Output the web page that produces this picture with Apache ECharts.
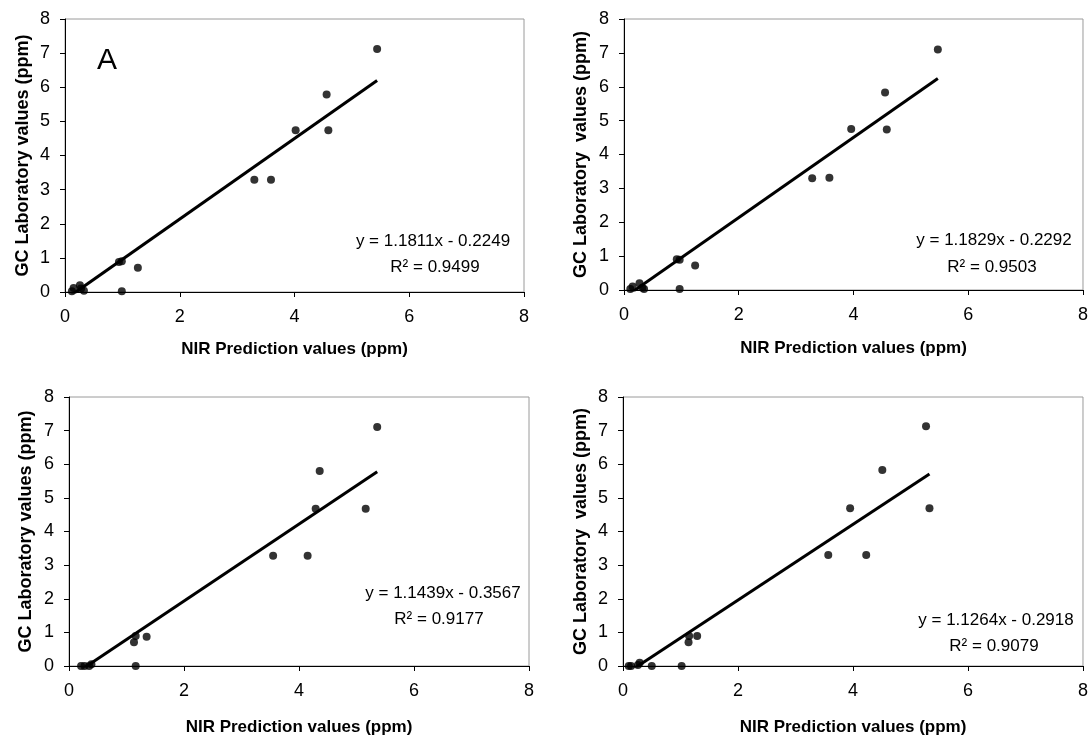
<!DOCTYPE html>
<html>
<head>
    <meta charset="utf-8">
    <title>NIR vs GC</title>
    <style>
        html, body { margin: 0; padding: 0; background: #fff; }
        #main { width: 1091px; height: 737px; }
    </style>
</head>
<body>
<div id="main"></div>
<script src="https://cdn.jsdelivr.net/npm/echarts@6/dist/echarts.min.js"></script>
<script>
    // panel A (top left)
    var nirA = [0.12, 0.15, 0.26, 0.28, 0.33, 0.94, 0.99, 0.99, 1.27, 3.30, 3.59, 4.02, 4.56, 4.59, 5.44];
    var gcA  = [0.02, 0.12, 0.20, 0.10, 0.04, 0.88, 0.90, 0.02, 0.71, 3.29, 3.29, 4.74, 5.79, 4.74, 7.12];
    // top right
    var nirB = [0.11, 0.15, 0.27, 0.32, 0.35, 0.92, 0.97, 0.97, 1.24, 3.28, 3.58, 3.96, 4.55, 4.58, 5.47];
    var gcB  = [0.03, 0.10, 0.20, 0.07, 0.03, 0.91, 0.89, 0.03, 0.72, 3.30, 3.31, 4.75, 5.83, 4.74, 7.10];
    // bottom left
    var nirC = [0.21, 0.27, 0.35, 0.39, 1.13, 1.16, 1.16, 1.35, 3.55, 4.15, 4.29, 4.36, 5.16, 5.36];
    var gcC  = [0.00, 0.00, 0.00, 0.05, 0.71, 0.89, 0.00, 0.87, 3.28, 3.28, 4.68, 5.80, 4.68, 7.11];
    // bottom right
    var nirD = [0.10, 0.14, 0.26, 0.29, 0.50, 1.02, 1.14, 1.15, 1.29, 3.57, 3.95, 4.23, 4.51, 5.27, 5.33];
    var gcD  = [0.00, 0.00, 0.03, 0.10, 0.00, 0.00, 0.71, 0.89, 0.89, 3.30, 4.69, 3.30, 5.83, 7.13, 4.69];

    // trendline coefficients shown on the chart
    var slopes = [1.1811, 1.1829, 1.1439, 1.1264];
    var intercepts = [-0.2249, -0.2292, -0.3567, -0.2918];
    var r2 = ['0.9499', '0.9503', '0.9177', '0.9079'];

    var yNames = ['GC Laboratory values (ppm)', 'GC Laboratory  values (ppm)',
                  'GC Laboratory values (ppm)', 'GC Laboratory  values (ppm)'];
    var xName = 'NIR Prediction values (ppm)';

    var panels = [[nirA, gcA], [nirB, gcB], [nirC, gcC], [nirD, gcD]];

    var font = 'Liberation Sans, Arial, sans-serif';

    var grids = [
        {left: 65, right: 567, top: 19, bottom: 445},
        {left: 624, right: 6, top: 19, bottom: 447},
        {left: 69, right: 562, top: 397, bottom: 69},
        {left: 623, right: 7, top: 397, bottom: 69}
    ];
    var xNameGaps = [49, 50, 53, 53];
    var yNameGaps = [33, 34, 34, 33];
    // equation label centres
    var eqPos = [[433, 241, 435, 267], [994, 240, 992, 267], [443, 593, 439, 619], [996, 620, 994, 646]];

    var myChart = echarts.init(document.getElementById('main'));

    var xAxes = [], yAxes = [], series = [], graphics = [];
    for (var i = 0; i < 4; i++) {
        grids[i].show = true;
        grids[i].borderColor = '#9a9a9a';
        grids[i].borderWidth = 1;
        xAxes.push({
            type: 'value', gridIndex: i, min: 0, max: 8, interval: 2,
            name: xName, nameLocation: 'middle', nameGap: xNameGaps[i],
            nameTextStyle: {fontFamily: font, fontWeight: 'bold', fontSize: 17, color: '#000'},
            axisLine: {show: true, onZero: false, lineStyle: {color: '#000', width: 1}},
            axisTick: {show: true, inside: false, length: 5, lineStyle: {color: '#000'}},
            axisLabel: {fontFamily: font, fontSize: 18, color: '#000', margin: 16},
            splitLine: {show: false}
        });
        yAxes.push({
            type: 'value', gridIndex: i, min: 0, max: 8, interval: 1,
            name: yNames[i], nameLocation: 'middle', nameGap: yNameGaps[i],
            nameTextStyle: {fontFamily: font, fontWeight: 'bold', fontSize: 18, color: '#000'},
            axisLine: {show: true, onZero: false, lineStyle: {color: '#000', width: 1}},
            axisTick: {show: true, inside: false, length: 5, lineStyle: {color: '#000'}},
            axisLabel: {fontFamily: font, fontSize: 18, color: '#000', margin: 15},
            splitLine: {show: false}
        });

        var xs = panels[i][0], ys = panels[i][1];
        var pts = [];
        for (var j = 0; j < xs.length; j++) pts.push([xs[j], ys[j]]);
        series.push({
            type: 'scatter', xAxisIndex: i, yAxisIndex: i, data: pts,
            symbolSize: 8, itemStyle: {color: '#000'}, silent: true
        });

        // least-squares line drawn over the data range
        var x0 = Math.min.apply(null, xs), x1 = Math.max.apply(null, xs);
        series.push({
            type: 'line', xAxisIndex: i, yAxisIndex: i, showSymbol: false, clip: true,
            data: [[x0, slopes[i] * x0 + intercepts[i]], [x1, slopes[i] * x1 + intercepts[i]]],
            lineStyle: {color: '#000', width: 3}, silent: true
        });

        var sign = intercepts[i] < 0 ? ' - ' : ' + ';
        graphics.push({
            type: 'text', x: eqPos[i][0], y: eqPos[i][1],
            style: {text: 'y = ' + slopes[i].toFixed(4) + 'x' + sign + Math.abs(intercepts[i]).toFixed(4),
                    fontFamily: font, fontSize: 17, fill: '#000', align: 'center', verticalAlign: 'middle'}
        });
        graphics.push({
            type: 'text', x: eqPos[i][2], y: eqPos[i][3],
            style: {text: 'R² = ' + r2[i],
                    fontFamily: font, fontSize: 17, fill: '#000', align: 'center', verticalAlign: 'middle'}
        });
    }

    graphics.push({
        type: 'text', x: 107, y: 61,
        style: {text: 'A', fontFamily: font, fontSize: 30, fill: '#000', align: 'center', verticalAlign: 'middle'}
    });

    var option = {
        backgroundColor: '#fff',
        animation: false,
        grid: grids,
        xAxis: xAxes,
        yAxis: yAxes,
        series: series,
        graphic: graphics
    };
    myChart.setOption(option);
</script>
</body>
</html>
